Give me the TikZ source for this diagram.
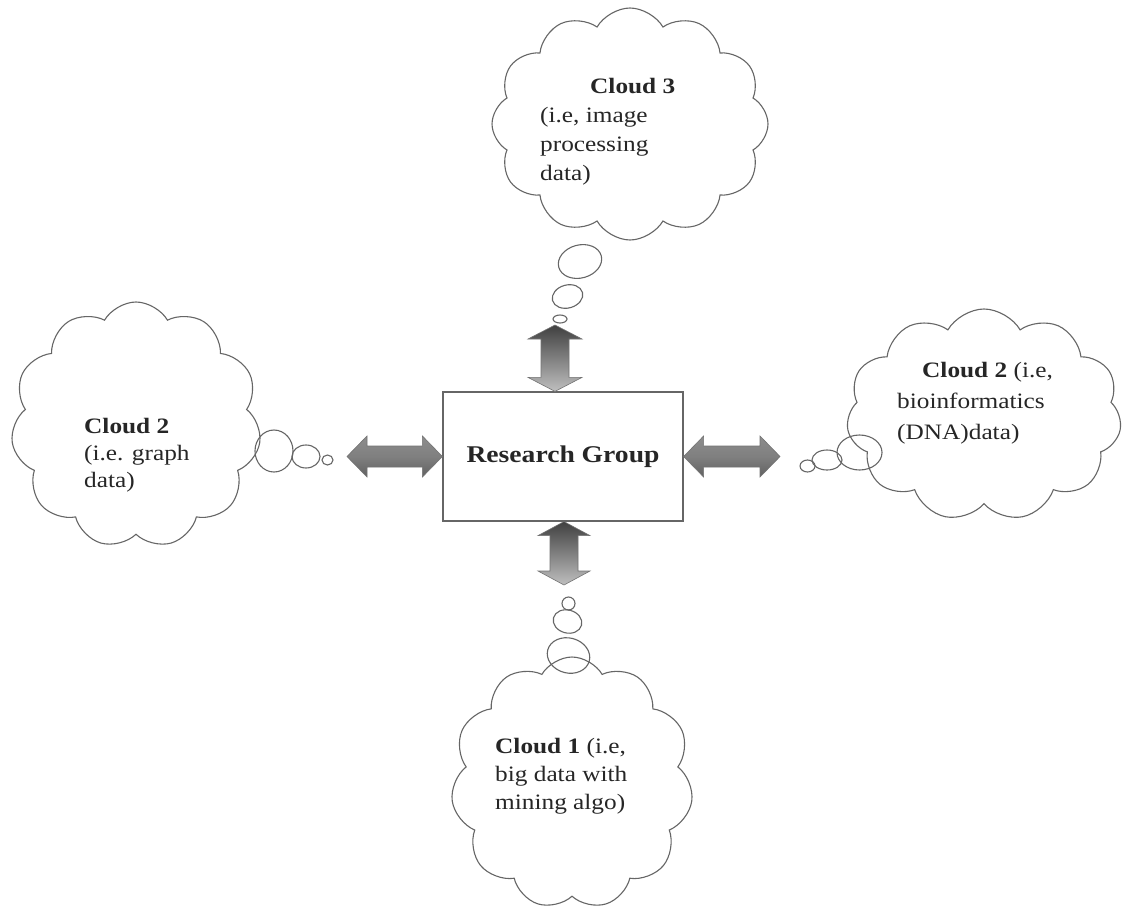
\documentclass[tikz,border=0pt]{standalone}
\usepackage{fontspec}
\setmainfont{Liberation Serif}
\newfontfamily\cloudfont[FakeStretch=1.15]{Liberation Serif}
\usetikzlibrary{shapes.symbols,shapes.geometric,calc}
\tikzset{
  outl/.style={draw=black!60, line width=1.1pt},
  cloudshape/.style={outl, cloud, cloud puffs=11, cloud puff arc=120, cloud ignores aspect, inner sep=0pt, fill=white},
  bubble/.style={outl, ellipse, inner sep=0pt},
  ctext/.style={font=\cloudfont\fontsize{22}{28}\selectfont, text=black!85, align=left, anchor=base west, inner sep=0pt},
  harr/.style={draw=black!55, line width=0.6pt, top color=black!45, bottom color=black!62, middle color=black!50},
  varr/.style={draw=black!55, line width=0.6pt, top color=black!75, bottom color=black!25},
}
\newcommand\blockH[2]{\path[harr] (#1) -- ($(#1)+(20,-20.5)$) -- ($(#1)+(20,-10.5)$) -- ($(#2)+(-20,-10.5)$) -- ($(#2)+(-20,-20.5)$) -- (#2) -- ($(#2)+(-20,20.5)$) -- ($(#2)+(-20,10.5)$) -- ($(#1)+(20,10.5)$) -- ($(#1)+(20,20.5)$) -- cycle;}
\newcommand\blockV[3]{\path[varr] (#1) -- ($(#1)+(#3,14)$) -- ($(#1)+(14,14)$) -- ($(#2)+(14,-14)$) -- ($(#2)+(#3,-14)$) -- (#2) -- ($(#2)+(-#3,-14)$) -- ($(#2)+(-14,-14)$) -- ($(#1)+(-14,14)$) -- ($(#1)+(-#3,14)$) -- cycle;}
\begin{document}
\begin{tikzpicture}[x=1pt,y=-1pt]
\useasboundingbox[fill=white] (0,0) rectangle (1123,910);

% clouds
\node[cloudshape, minimum width=250pt, minimum height=246pt] (cl) at (136,425) {};
\node[cloudshape, minimum width=275pt, minimum height=212pt] (cr) at (984,415) {};
\node[cloudshape, minimum width=276pt, minimum height=232pt, cloud puffs=12] (ct) at (630,124) {};
\node[cloudshape, minimum width=242pt, minimum height=252pt] (cb) at (572,783) {};

% bubbles
\node[bubble, minimum width=38pt, minimum height=42pt] (bl1) at (274,451) {};
\node[bubble, minimum width=28pt, minimum height=23pt] (bl2) at (306,456.5) {};
\node[bubble, minimum width=11pt, minimum height=10pt] (bl3) at (327.5,460) {};
\node[bubble, minimum width=45pt, minimum height=35pt] (br1) at (859.5,452.5) {};
\node[bubble, minimum width=30pt, minimum height=20pt] (br2) at (827,460) {};
\node[bubble, minimum width=15pt, minimum height=12pt] (br3) at (807.5,466) {};
\node[bubble, minimum width=44pt, minimum height=33pt, rotate=15] (bt1) at (580,261.5) {};
\node[bubble, minimum width=31pt, minimum height=23pt, rotate=15] (bt2) at (567.5,296.5) {};
\node[bubble, minimum width=14pt, minimum height=8pt] (bt3) at (560,319) {};
\node[bubble, minimum width=43pt, minimum height=35pt, rotate=-15] (bb1) at (568.5,655.5) {};
\node[bubble, minimum width=29pt, minimum height=23pt, rotate=-15] (bb2) at (567.5,621.5) {};
\node[bubble, minimum width=13pt, minimum height=13pt] (bb3) at (568.5,603.5) {};

% texts (anchored at the baseline of their last line)
\node[ctext, font=\cloudfont\fontsize{22}{27}\selectfont] (tl) at (84,487) {\textbf{Cloud 2}\\(i.e. graph\\data)};
\node[ctext, font=\cloudfont\fontsize{22}{31}\selectfont] (tr) at (897,439) {\hspace*{25pt}\textbf{Cloud 2} (i.e,\\bioinformatics\\(DNA)data)};
\node[ctext, font=\cloudfont\fontsize{22}{29}\selectfont] (tt) at (540,180) {\hspace*{50pt}\textbf{Cloud 3}\\(i.e, image\\processing\\data)};
\node[ctext] (tb) at (495,809) {\textbf{Cloud 1} (i.e,\\big data with\\mining algo)};

% central box
\node[draw=black!60, line width=1.2pt, minimum width=240pt, minimum height=129pt, inner sep=0pt,
      font=\cloudfont\fontsize{24}{28}\selectfont\bfseries, text=black!85] (rg) at (563,456.5) {Research Group};

% arrows
\coordinate (aL) at (347,456.5);
\coordinate (aR) at (780,456.5);
\coordinate (aT) at (555,325);
\coordinate (aB) at (564,585);
\blockH{aL}{rg.west}
\blockH{rg.east}{aR}
\blockV{aT}{aT |- rg.north}{27}
\blockV{aB |- rg.south}{aB}{26}
\end{tikzpicture}
\end{document}
